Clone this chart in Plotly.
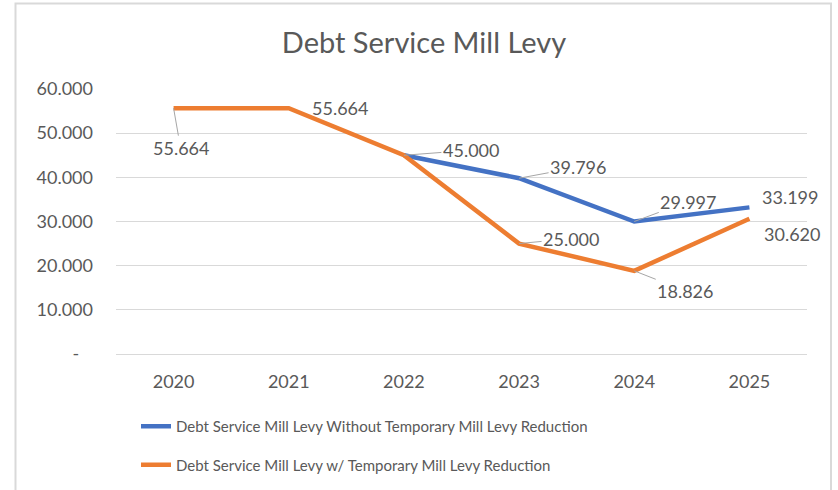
import plotly.graph_objects as go

years = ["2020", "2021", "2022", "2023", "2024", "2025"]
without_reduction = [None, None, 45.000, 39.796, 29.997, 33.199]
with_reduction = [55.664, 55.664, 45.000, 25.000, 18.826, 30.620]
series_names = [
    "Debt Service Mill Levy Without Temporary Mill Levy Reduction",
    "Debt Service Mill Levy w/ Temporary Mill Levy Reduction",
]
y_ticks = [0, 10, 20, 30, 40, 50, 60]
y_tick_text = ["-\u00a0\u00a0\u00a0", "10.000", "20.000", "30.000", "40.000", "50.000", "60.000"]

BLUE = "#4472C4"
ORANGE = "#ED7D31"
TEXT = "#595959"
GRID = "#D9D9D9"
FONT = "Lato"

W, H = 838, 490
L, R, T, B = 116, 31, 89, 136

fig = go.Figure()
fig.add_trace(go.Scatter(x=years, y=without_reduction, mode="lines", name=series_names[0],
                         line=dict(color=BLUE, width=4.5), legendgroup="a", connectgaps=False))
fig.add_trace(go.Scatter(x=years, y=with_reduction, mode="lines", name=series_names[1],
                         line=dict(color=ORANGE, width=4.5), legendgroup="b"))

# data labels: (series values, index, dx, dy, leader)
label_specs = [
    (with_reduction, 0, 7, 40, True),
    (with_reduction, 1, 51, 0, False),
    (without_reduction, 2, 67, -5, True),
    (without_reduction, 3, 59, -11, True),
    (with_reduction, 3, 52, -5, True),
    (without_reduction, 4, 54, -20, True),
    (with_reduction, 4, 51, 20, True),
    (without_reduction, 5, 41, -10, False),
    (with_reduction, 5, 43, 15, False),
]
for vals, i, dx, dy, leader in label_specs:
    txt = f"{vals[i]:.3f}"
    if leader:
        fig.add_annotation(x=i, y=vals[i], xref="x", yref="y", text=txt, showarrow=True,
                           ax=dx, ay=dy, axref="pixel", ayref="pixel",
                           arrowhead=0, arrowwidth=1, arrowcolor="#A6A6A6", standoff=0,
                           font=dict(family=FONT, size=18, color=TEXT))
    else:
        fig.add_annotation(x=i, y=vals[i], xref="x", yref="y", text=txt, showarrow=False,
                           xshift=dx, yshift=-dy, font=dict(family=FONT, size=18, color=TEXT))

pw = W - L - R
ph = H - T - B
def px_x(p):
    return (p - L) / pw
def px_y(p):
    return (H - B - p) / ph

# outer chart border
fig.add_shape(type="rect", xref="paper", yref="paper",
              x0=px_x(15.5), x1=px_x(831), y0=px_y(495), y1=px_y(3.5),
              line=dict(color=GRID, width=2), layer="below")

fig.update_layout(
    width=W, height=H,
    margin=dict(l=L, r=R, t=T, b=B, autoexpand=False),
    paper_bgcolor="white", plot_bgcolor="white",
    font=dict(family=FONT, color=TEXT),
    title=dict(text="Debt Service Mill Levy", x=424 / W, xanchor="center",
               y=1 - 43 / H, yanchor="middle", yref="container",
               font=dict(family=FONT, size=29, color=TEXT)),
    showlegend=True,
    legend=dict(orientation="v", x=px_x(136), xanchor="left", y=px_y(410), yanchor="top",
                traceorder="grouped", tracegroupgap=16,
                font=dict(family=FONT, size=15, color=TEXT), bgcolor="rgba(0,0,0,0)"),
    xaxis=dict(type="category", range=[-0.5, 5.5], showgrid=False, zeroline=False,
               showline=True, linecolor=GRID, linewidth=1, ticks="",
               tickfont=dict(family=FONT, size=18, color=TEXT), ticklabelstandoff=11),
    yaxis=dict(range=[0, 60], tickvals=y_ticks, ticktext=y_tick_text, showgrid=True,
               gridcolor=GRID, gridwidth=1, zeroline=False, showline=False, ticks="",
               tickfont=dict(family=FONT, size=18, color=TEXT), ticklabelstandoff=22),
)

fig.write_html("out.html")
